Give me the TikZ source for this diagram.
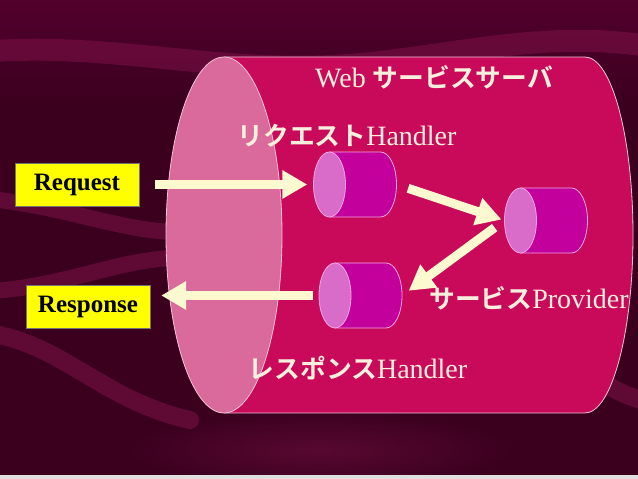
\documentclass[tikz,border=0pt]{standalone}
\usepackage{fontspec}
\setmainfont{Liberation Serif}
\newfontfamily\jpfont[BoldFont={Noto Sans CJK JP Bold},Scale=0.92]{Noto Sans CJK JP}
\newcommand\jtext[1]{{\jpfont\bfseries #1}}
\usetikzlibrary{arrows.meta}

\definecolor{bgdark}{HTML}{3A001E}
\definecolor{bgtop}{HTML}{52002C}
\definecolor{bandcol}{HTML}{7E1248}
\definecolor{srvbody}{HTML}{C90A5A}
\definecolor{srvface}{HTML}{DA6A9C}
\definecolor{srvline}{HTML}{F6C4DA}
\definecolor{drumbody}{HTML}{C4009C}
\definecolor{drumface}{HTML}{D96CC8}
\definecolor{drumline}{HTML}{F2A6E2}
\definecolor{flowcol}{HTML}{FCF8D0}
\definecolor{lblcream}{HTML}{F8F0DC}
\definecolor{tagyellow}{HTML}{FFFF00}

\tikzset{
  band/.style={draw=bandcol, opacity=0.55, line width=22pt, line cap=round},
  drumbox/.style={minimum width=83pt, minimum height=65pt, inner sep=0pt},
  drumside/.style={fill=drumbody, draw=drumline, line width=0.8pt},
  drumend/.style={fill=drumface, draw=drumline, line width=0.8pt},
  flow/.style={draw=flowcol, line width=9pt, -{Triangle[length=25pt,width=27pt]}},
  tag/.style={draw=black!55, fill=tagyellow, minimum width=124pt,
    minimum height=43pt, font=\bfseries\fontsize{25}{27}\selectfont},
  lbl/.style={text=lblcream, font=\fontsize{28}{30}\selectfont}
}

\begin{document}
\begin{tikzpicture}[x=1pt,y=-1pt]
  \useasboundingbox (0,0) rectangle (638,479);
  % background
  \fill[bgdark] (0,0) rectangle (638,479);
  \shade[top color=bgtop, bottom color=bgdark] (0,0) rectangle (638,110);
  \shade[inner color=bandcol!45!bgdark, outer color=bgdark] (320,450) ellipse (200 and 40);
  \draw[band] (-20,52) .. controls (120,40) and (230,80) .. (380,62)
    .. controls (480,50) and (560,30) .. (660,48);
  \draw[band, line width=16pt] (-20,198) .. controls (60,205) and (110,228) .. (170,232);
  \draw[band, line width=16pt] (-20,292) .. controls (60,288) and (110,262) .. (170,258);
  \draw[band, line width=18pt] (-20,332) .. controls (60,340) and (100,400) .. (190,420);
  \draw[band, line width=18pt] (600,380) .. controls (620,395) and (640,400) .. (660,405);
  \fill[gray!25] (0,475) rectangle (638,479);

  % server cylinder
  \fill[srvbody] (224,57) rectangle (585,413);
  \fill[srvbody] (585,235) ellipse (48 and 178);
  \draw[srvline, line width=0.8pt] (224,57) -- (585,57)
    arc[start angle=-90, end angle=90, x radius=48, y radius=178] -- (224,413);
  \draw[srvline, line width=0.8pt, fill=srvface] (224,235) ellipse (58 and 178);

  % labels
  \node[lbl] (title) at (434,77) {Web \jtext{サービスサーバ}};
  \node[lbl] (reqlbl) at (347,136) {\jtext{リクエスト}Handler};
  \node[lbl] (provlbl) at (529,298) {\jtext{サービス}Provider};
  \node[lbl] (reslbl) at (358,368) {\jtext{レスポンス}Handler};

  % handlers
  \foreach \cx/\cy/\nm in {355/184.5/reqh, 546/220.5/prov, 360.5/295.5/resh} {
    \path[drumside] (\cx-25.5,\cy-32.5) -- (\cx+25.5,\cy-32.5)
      arc[start angle=-90, end angle=90, x radius=16, y radius=32.5]
      -- (\cx-25.5,\cy+32.5) -- cycle;
    \path[drumend] (\cx-25.5,\cy) ellipse (16 and 32.5);
    \node[drumbox] (\nm) at (\cx,\cy) {};
  }

  \node[tag] (req) at (77,184.5) {Request};
  \node[tag] (res) at (88,307) {Response};

  % flows
  \draw[flow, shorten <=16pt, shorten >=6pt] (req.east) -- (reqh.west);
  \draw[flow, shorten <=12pt, shorten >=3pt] (reqh.east) -- (prov.west);
  \draw[flow, shorten <=12pt, shorten >=8pt] (prov.west) -- (resh.east);
  \draw[flow, shorten <=6pt, shorten >=11pt] (resh.west) -- (resh.west -| res.east);
\end{tikzpicture}
\end{document}
